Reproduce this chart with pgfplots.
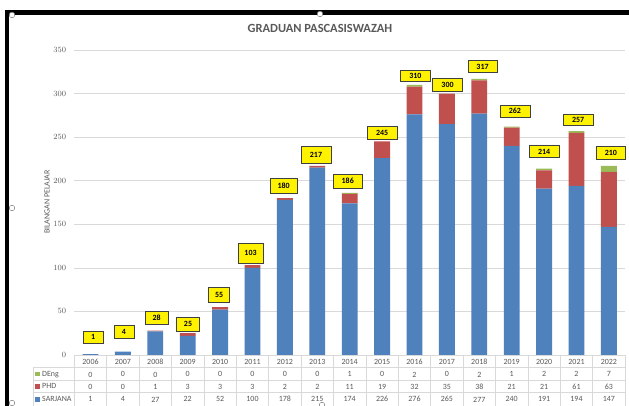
\documentclass[border=0pt]{standalone}
\usepackage{fontspec}
\setmainfont{Carlito}
\usepackage{pgfplots}
\usepackage{pgfplotstable}
\pgfplotsset{compat=1.18}
\definecolor{cS}{HTML}{4F81BD}
\definecolor{cP}{HTML}{C0504D}
\definecolor{cD}{HTML}{9BBB59}
\definecolor{txt}{HTML}{595959}
\definecolor{gridc}{HTML}{D9D9D9}
\definecolor{lblbd}{HTML}{404040}

\pgfplotstableread{
idx year sarjana phd deng total lx ly bw bh
0 2006 1 0 0 1 0.08 20.7 20 12
1 2007 4 0 0 4 1.03 26.4 20 12.3
2 2008 27 1 0 28 2.04 42.5 23 13.3
3 2009 22 3 0 25 3.01 35.6 22.7 14
4 2010 52 3 0 55 3.97 68.9 21 15
5 2011 100 3 0 103 4.94 117.1 25 20
6 2012 178 2 0 180 5.96 193.9 27 15
7 2013 215 2 0 217 6.96 229.5 29.7 16.7
8 2014 174 11 1 186 7.94 199.7 29 14
9 2015 226 19 0 245 9.00 254.8 30 13
10 2016 276 32 2 310 10.03 320.2 29.3 11.7
11 2017 265 35 0 300 11.02 309.8 30 12.7
12 2018 277 38 2 317 12.10 331.1 29 11.6
13 2019 240 21 1 262 13.10 280.0 30 12
14 2020 191 21 2 214 14.00 233.3 29.7 12
15 2021 194 61 2 257 15.05 269.7 29.7 11.7
16 2022 147 63 7 210 16.06 232.4 29 13
}\datatable

\newcommand\tfont{\fontsize{8}{12.5}\selectfont}
\def\bw{20}\def\bh{12}

\begin{document}
\begin{tikzpicture}
\useasboundingbox (-74.3bp,-51bp) rectangle (554.7bp,355bp);
\fill[white] (-74.3bp,-51bp) rectangle (554.7bp,355bp);
% selection frame
\fill[black] (-69.3bp,-51bp) rectangle (-65.3bp,345bp);
\fill[black] (-69.3bp,340bp) rectangle (554.7bp,345bp);

\begin{axis}[
  at={(0,0)}, anchor=south west, scale only axis,
  width=550.8bp, height=305bp,
  xmin=-0.5, xmax=16.5, ymin=0, ymax=350,
  ybar stacked, bar width=0.49,
  ytick={0,50,...,350}, xtick={0,...,16},
  ymajorgrids, grid style={draw=gridc, line width=0.6pt},
  axis line style={draw=none}, major tick length=0pt, tick style={draw=none},
  yticklabel style={font=\tfont, text=txt, anchor=east, inner sep=0pt, xshift=-8bp},
  xticklabel style={font=\tfont, text=txt, anchor=north, inner sep=0pt, yshift=-4bp, align=center},
  xticklabel={\pgfplotstablegetelem{\ticknum}{year}\of\datatable\xdef\vY{\pgfplotsretval}%
    \pgfplotstablegetelem{\ticknum}{deng}\of\datatable\xdef\vD{\pgfplotsretval}%
    \pgfplotstablegetelem{\ticknum}{phd}\of\datatable\xdef\vP{\pgfplotsretval}%
    \pgfplotstablegetelem{\ticknum}{sarjana}\of\datatable\xdef\vS{\pgfplotsretval}%
    \vY\\\vD\\\vP\\\vS},
  clip=false,
]
\addplot[fill=cS, draw=none] table[x=idx, y=sarjana]{\datatable};
\addplot[fill=cP, draw=none] table[x=idx, y=phd]{\datatable};
\addplot[fill=cD, draw=none] table[x=idx, y=deng]{\datatable};
\end{axis}

\begin{axis}[
  at={(0,0)}, anchor=south west, scale only axis,
  width=550.8bp, height=305bp,
  xmin=-0.5, xmax=16.5, ymin=0, ymax=350,
  hide axis, clip=false,
]
\addplot[draw=none, mark=none,
  visualization depends on={\thisrow{bw}\as\bw},
  visualization depends on={\thisrow{bh}\as\bh},
  nodes near coords, point meta=explicit symbolic,
  nodes near coords align={center},
  every node near coord/.append style={anchor=center, fill=yellow, draw=lblbd, line width=0.7pt,
    inner sep=0pt, minimum width=\bw bp, minimum height=\bh bp,
    font=\fontsize{8}{9}\selectfont\bfseries, text=black}]
  table[x=lx, y=ly, meta=total]{\datatable};
\end{axis}

% data table grid
\foreach \k in {0,...,17} \draw[gridc, line width=0.6pt] (\k*32.4bp,0) -- (\k*32.4bp,-51bp);
\draw[gridc, line width=0.6pt] (0,0) -- (550.8bp,0);
\foreach \yy in {-12.5,-25,-37.3} \draw[gridc, line width=0.6pt] (-41bp,\yy bp) -- (550.8bp,\yy bp);
\draw[gridc, line width=0.6pt] (-41bp,-12.5bp) -- (-41bp,-51bp);
% legend keys
\fill[cD] (-39bp,-21.2bp) rectangle ++(4.7bp,4.7bp);
\fill[cP] (-39bp,-33.7bp) rectangle ++(4.7bp,4.7bp);
\fill[cS] (-39bp,-46.6bp) rectangle ++(4.7bp,4.7bp);
\node[font=\tfont, text=txt, anchor=base west, inner sep=0pt] at (-32.3bp,-21.2bp) {DEng};
\node[font=\tfont, text=txt, anchor=base west, inner sep=0pt] at (-32.3bp,-33.7bp) {PHD};
\node[font=\tfont, text=txt, anchor=base west, inner sep=0pt] at (-32.3bp,-46.6bp) {SARJANA};

% titles
\node[font=\fontsize{12.5}{14}\selectfont\bfseries, text=txt] at (245.7bp,326.5bp) {GRADUAN PASCASISWAZAH};
\node[font=\tfont, text=txt, rotate=90] at (-27.3bp,153bp) {BILANGAN PELAJAR};

% selection handles
\foreach \p in {(-62.3bp,340bp),(245.7bp,341bp),(-62.3bp,147bp),(-62.3bp,-48bp),(247.7bp,-50bp)}
  \draw[gray, fill=white, line width=0.5pt] \p circle (2.8bp);
\end{tikzpicture}
\end{document}
